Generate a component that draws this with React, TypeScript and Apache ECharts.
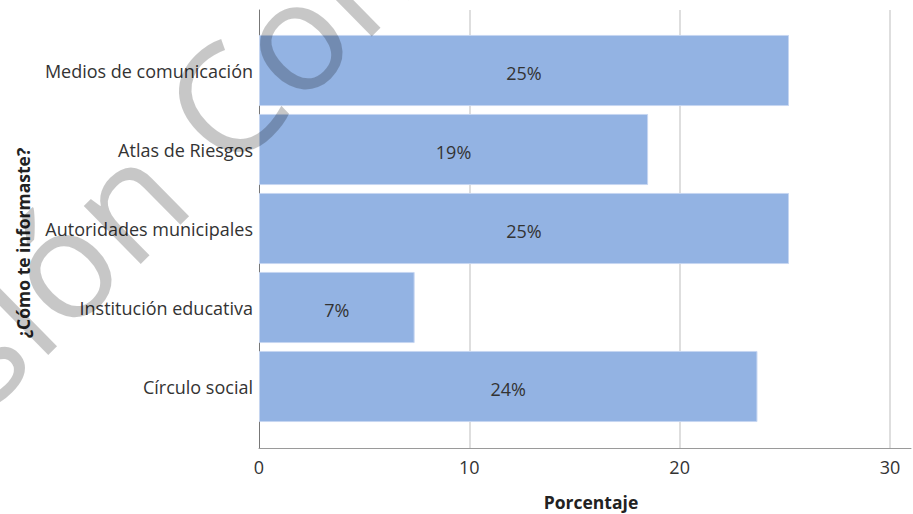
import React, { useEffect, useRef } from "react";
import * as echarts from "echarts";

const categories = [
  "Medios de comunicación",
  "Atlas de Riesgos",
  "Autoridades municipales",
  "Institución educativa",
  "Círculo social",
];
const values = [25.2, 18.5, 25.2, 7.4, 23.7];
const xMin = 0;
const xMax = 31;
const xInterval = 10;
const xTitle = "Porcentaje";
const yTitle = "¿Cómo te informaste?";
const watermarkWords = ["Versión", "Completa"];

export default function App() {
  const ref = useRef<HTMLDivElement>(null);
  useEffect(() => {
    if (!ref.current) return;
    const chart = echarts.init(ref.current, null, { renderer: "svg" });
    const font = '"Open Sans"';
    const rot = (44.5 * Math.PI) / 180;
    const wmStyle = {
      fontSize: 152,
      fontFamily: font,
      fill: "rgba(0,0,0,0.22)",
      verticalAlign: "middle",
    };
    const option: any = {
      animation: false,
      textStyle: { fontFamily: font },
      grid: [
        { left: 259, top: 10, width: 652, height: 438 },
        { left: 259, top: 31, width: 652, height: 395 },
      ],
      xAxis: [
        {
          gridIndex: 0,
          type: "value",
          min: xMin,
          max: xMax,
          interval: xInterval,
          axisLine: { show: true, onZero: false, lineStyle: { color: "#9a9a9a", width: 1 } },
          axisTick: { show: false },
          axisLabel: {
            fontSize: 18,
            color: "#333",
            margin: 10,
            showMaxLabel: false,
            formatter: (v: number) => (v % xInterval === 0 ? String(v) : ""),
          },
          splitLine: {
            show: true,
            showMinLine: false,
            showMaxLine: false,
            lineStyle: { color: "#d3d3d3", width: 1.5 },
          },
        },
        { gridIndex: 1, type: "value", min: xMin, max: xMax, show: false },
      ],
      yAxis: [
        {
          gridIndex: 0,
          type: "value",
          min: 0,
          max: 1,
          axisLine: { show: true, lineStyle: { color: "#777", width: 1 } },
          axisLabel: { show: false },
          axisTick: { show: false },
          splitLine: { show: false },
        },
        {
          gridIndex: 1,
          type: "category",
          data: categories,
          inverse: true,
          axisLine: { show: false },
          axisTick: { show: false },
          axisLabel: { fontSize: 18, color: "#333", margin: 6, padding: [5, 0, 0, 0] },
        },
      ],
      series: [
        {
          type: "bar",
          xAxisIndex: 1,
          yAxisIndex: 1,
          data: values,
          barCategoryGap: "10%",
          itemStyle: { color: "#93b3e3", borderColor: "#c6d6f1", borderWidth: 1 },
          label: {
            show: true,
            position: "inside",
            offset: [0, 2.5],
            formatter: (p: any) => Math.round(p.value) + "%",
            fontSize: 18,
            color: "#333",
          },
        },
      ],
      graphic: [
        {
          type: "text",
          x: 591,
          y: 502,
          style: {
            text: xTitle,
            fontSize: 17.5,
            fontWeight: "bold",
            fontFamily: font,
            fill: "#222",
            align: "center",
            verticalAlign: "middle",
          },
        },
        {
          type: "text",
          x: 23,
          y: 243,
          rotation: Math.PI / 2,
          style: {
            text: yTitle,
            fontSize: 17.5,
            fontWeight: "bold",
            fontFamily: font,
            fill: "#222",
            align: "center",
            verticalAlign: "middle",
          },
        },
        {
          type: "text",
          x: 157,
          y: 166,
          rotation: rot,
          z: 100,
          silent: true,
          style: { ...wmStyle, text: watermarkWords[0], align: "right" },
        },
        {
          type: "text",
          x: 188,
          y: 135,
          rotation: rot,
          z: 100,
          silent: true,
          style: { ...wmStyle, text: watermarkWords[1], align: "left" },
        },
      ],
    };
    chart.setOption(option);
    return () => chart.dispose();
  }, []);
  return (
    <div
      ref={ref}
      style={{ position: "absolute", left: 0, top: 0, width: 913, height: 514 }}
    />
  );
}
